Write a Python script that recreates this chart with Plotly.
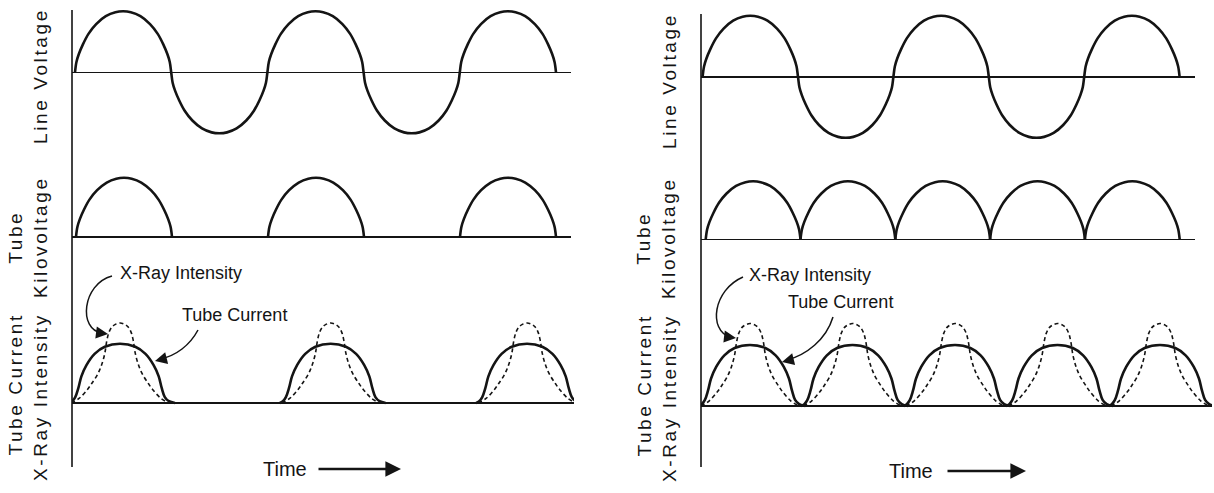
import plotly.graph_objects as go

W, H = 1214, 493

# ---------------- data ----------------
# One drawn half-cycle of a voltage wave: phase inside the half-cycle -> relative height
WAVE_PHASE = [0.0, 0.015, 0.04, 0.08, 0.14, 0.22, 0.32, 0.42, 0.50, 0.58, 0.68, 0.78, 0.86, 0.92, 0.96, 0.985, 1.0]
WAVE_VALUE = [0.0, 0.17, 0.30, 0.45, 0.63, 0.79, 0.92, 0.985, 1.00, 0.985, 0.92, 0.79, 0.63, 0.45, 0.30, 0.17, 0.0]

# One tube-current pulse (phase inside its half-cycle -> relative height)
CURRENT_PHASE = [-0.02, 0.01, 0.04, 0.07, 0.10, 0.15, 0.23, 0.33, 0.48, 0.63, 0.73, 0.81, 0.86, 0.89, 0.92, 0.96, 1.02]
CURRENT_VALUE = [0.0, 0.03, 0.10, 0.25, 0.45, 0.64, 0.83, 0.95, 1.00, 0.95, 0.83, 0.64, 0.45, 0.25, 0.10, 0.03, 0.0]

# One x-ray intensity pulse (dashed)
XRAY_PHASE = [0.0, 0.08, 0.16, 0.20, 0.26, 0.30, 0.33, 0.35, 0.37, 0.40, 0.43, 0.48,
              0.53, 0.56, 0.59, 0.61, 0.63, 0.66, 0.70, 0.76, 0.80, 0.88, 0.96]
XRAY_VALUE = [0.0, 0.06, 0.17, 0.24, 0.36, 0.48, 0.62, 0.78, 0.88, 0.95, 0.98, 1.00,
              0.98, 0.95, 0.88, 0.78, 0.62, 0.48, 0.36, 0.24, 0.17, 0.06, 0.0]

LINE_PEAK = 1.0
KV_PEAK = 1.0
XRAY_PEAK = 1.0
CURRENT_PEAK = 0.74

# Line voltage polarity per half-cycle (both panels)
LINE_POLARITY = [1, -1, 1, -1, 1]
# Half-cycles that carry a kilovoltage hump / pulse
KV_SLOTS_LEFT = [0, 2, 4]            # self-rectified (half-wave)
KV_SLOTS_RIGHT = [0, 1, 2, 3, 4]     # full-wave rectified
PULSE_SLOTS_LEFT = [0, 2.07, 4]
PULSE_SLOTS_RIGHT = [0, 1, 2, 3, 4]

LABEL_LINE = "Line Voltage"
LABEL_KV = ["Tube", "Kilovoltage"]
LABEL_CUR = ["Tube Current", "X-Ray Intensity"]
TXT_XRAY = "X-Ray Intensity"
TXT_CURRENT = "Tube Current"
TXT_TIME = "Time"

INK = "#141414"
FONT = "Liberation Sans, Arial, Helvetica, sans-serif"


def px(x):
    return x / W


def py(y):
    return 1 - y / H


def wave(slots, signs, phase, value, peak, joined):
    xs, ys = [], []
    for i, k in enumerate(slots):
        s = signs[i] if signs is not None else 1
        for j, (p, v) in enumerate(zip(phase, value)):
            if joined and i > 0 and j == 0:
                continue
            xs.append(k + p)
            ys.append(s * peak * v)
        if not joined:
            xs.append(None)
            ys.append(None)
    return xs, ys


# geometry of each strip in pixels (t0 = pixel of time 0, hc = pixels per half-cycle)
GEOM = [
    dict(t0=75.0, hc=96.2, xl=72, xr=571, base=72.3, unit=61, top=2, bot=150),
    dict(t0=76.0, hc=96.0, xl=72, xr=571, base=236.8, unit=59, top=165, bot=252),
    dict(t0=71.2, hc=101.75, xl=72, xr=574, base=403.0, unit=80, top=300, bot=420),
    dict(t0=702.6, hc=95.4, xl=701, xr=1195, base=76.8, unit=61, top=2, bot=150),
    dict(t0=705.7, hc=94.8, xl=701, xr=1195, base=239.3, unit=58, top=165, bot=252),
    dict(t0=700.8, hc=102.5, xl=701, xr=1212, base=406.0, unit=82.5, top=300, bot=420),
]

fig = go.Figure()

solid = dict(color=INK, width=2.6, shape="spline", smoothing=1.0)
dashed = dict(color=INK, width=1.6, dash="4px,3px", shape="spline", smoothing=1.0)

series = []
# left column
series.append((1, wave(range(5), LINE_POLARITY, WAVE_PHASE, WAVE_VALUE, LINE_PEAK, True), solid))
series.append((2, wave(KV_SLOTS_LEFT, None, WAVE_PHASE, WAVE_VALUE, KV_PEAK, False), solid))
series.append((3, wave(PULSE_SLOTS_LEFT, None, XRAY_PHASE, XRAY_VALUE, XRAY_PEAK, False), dashed))
series.append((3, wave(PULSE_SLOTS_LEFT, None, CURRENT_PHASE, CURRENT_VALUE, CURRENT_PEAK, False), solid))
# right column
series.append((4, wave(range(5), LINE_POLARITY, WAVE_PHASE, WAVE_VALUE, LINE_PEAK, True), solid))
series.append((5, wave(KV_SLOTS_RIGHT, None, WAVE_PHASE, WAVE_VALUE, KV_PEAK, False), solid))
series.append((6, wave(PULSE_SLOTS_RIGHT, None, XRAY_PHASE, XRAY_VALUE, XRAY_PEAK, False), dashed))
series.append((6, wave(PULSE_SLOTS_RIGHT, None, CURRENT_PHASE, CURRENT_VALUE, CURRENT_PEAK, False), solid))

for idx, (xs, ys), style in series:
    sfx = "" if idx == 1 else str(idx)
    fig.add_trace(go.Scatter(x=xs, y=ys, mode="lines", line=style,
                             xaxis="x" + sfx, yaxis="y" + sfx,
                             connectgaps=False, hoverinfo="skip", showlegend=False))

layout = dict(width=W, height=H, margin=dict(l=0, r=0, t=0, b=0),
              paper_bgcolor="white", plot_bgcolor="rgba(0,0,0,0)", showlegend=False)
for i, g in enumerate(GEOM, start=1):
    sfx = "" if i == 1 else str(i)
    layout["xaxis" + sfx] = dict(domain=[px(g["xl"]), px(g["xr"])],
                                 range=[(g["xl"] - g["t0"]) / g["hc"], (g["xr"] - g["t0"]) / g["hc"]],
                                 anchor="y" + sfx, visible=False, fixedrange=True)
    layout["yaxis" + sfx] = dict(domain=[py(g["bot"]), py(g["top"])],
                                 range=[-(g["bot"] - g["base"]) / g["unit"], (g["base"] - g["top"]) / g["unit"]],
                                 anchor="x" + sfx, showgrid=False, showticklabels=False, ticks="",
                                 showline=False, zeroline=True, zerolinecolor=INK, zerolinewidth=1.6,
                                 fixedrange=True)
fig.update_layout(**layout)

# vertical time-origin lines
for (x, y0, y1) in [(72, 10, 467), (701, 14, 467)]:
    fig.add_shape(type="line", xref="paper", yref="paper", x0=px(x), x1=px(x), y0=py(y0), y1=py(y1),
                  line=dict(color=INK, width=1.6))


def spaced(t, sp=2.6):
    return '<span style="letter-spacing:%.1fpx">%s</span>' % (sp, t)


def label(x, y, lines, align="center"):
    fig.add_annotation(xref="paper", yref="paper", x=px(x), y=py(y), xanchor="center", yanchor="middle",
                       text="<br>".join(spaced(t) for t in lines), textangle=-90, showarrow=False,
                       align=align, font=dict(family=FONT, size=19, color=INK))


label(41, 76, [LABEL_LINE])
label(28, 237, LABEL_KV)
label(28, 397, LABEL_CUR, align="right")
label(669, 81, [LABEL_LINE])
label(656, 238, LABEL_KV)
label(657, 398, LABEL_CUR, align="right")


def text(x, y, t, size=18):
    fig.add_annotation(xref="paper", yref="paper", x=px(x), y=py(y), xanchor="center", yanchor="middle",
                       text=t, showarrow=False, font=dict(family=FONT, size=size, color=INK))


text(181, 273, TXT_XRAY)
text(234, 315, TXT_CURRENT)
text(810, 275, TXT_XRAY)
text(840, 302, TXT_CURRENT)
text(285, 469, TXT_TIME, 20)
text(911, 471, TXT_TIME, 20)


def arrow(x, y, ax, ay, width, size):
    fig.add_annotation(xref="paper", yref="paper", x=px(x), y=py(y), ax=ax, ay=ay, text="",
                       showarrow=True, arrowhead=2, arrowsize=size, arrowwidth=width,
                       arrowcolor=INK, standoff=0)


# Time arrows
arrow(401, 469, -84, 0, 2.6, 1.2)
arrow(1026, 471, -80, 0, 2.6, 1.2)


def curve(pts):
    (x0, y0), (x1, y1), (x2, y2), (x3, y3) = pts
    path = "M %f,%f C %f,%f %f,%f %f,%f" % (px(x0), py(y0), px(x1), py(y1), px(x2), py(y2), px(x3), py(y3))
    fig.add_shape(type="path", xref="paper", yref="paper", path=path, line=dict(color=INK, width=1.5))


# curved pointer arrows
curve([(112, 276), (82, 284), (78, 330), (102, 333)])
arrow(108, 334, -8, -1, 1.5, 1.6)
curve([(198, 330), (190, 345), (176, 356), (160, 359)])
arrow(155, 361, 8, -2, 1.5, 1.6)
curve([(743, 277), (713, 290), (708, 330), (730, 337)])
arrow(736, 338, -8, -1, 1.5, 1.6)
curve([(833, 317), (826, 340), (806, 355), (787, 360)])
arrow(782, 362, 8, -2, 1.5, 1.6)

fig.write_html("out.html",
               config={"displayModeBar": False, "staticPlot": True},
               post_script="document.body.style.margin='0px';document.body.style.overflow='hidden';")
